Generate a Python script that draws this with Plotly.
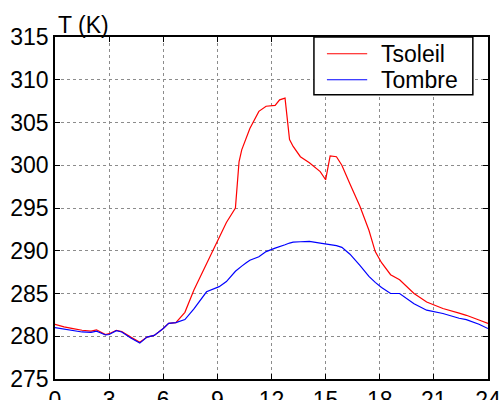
import plotly.graph_objects as go

# Hour of the day (h)
hours = [0, 0.5, 1, 1.5, 2, 2.3, 2.8, 3.0, 3.4, 3.7, 4.2, 4.7, 5.1, 5.5, 6.0,
         6.3, 6.7, 7.2, 7.7, 8.4, 9.1, 9.5, 10.0, 10.2, 10.35, 10.6, 10.8,
         11.3, 11.7, 12.2, 12.45, 12.75, 13.0, 13.2, 13.6, 14.1, 14.7, 15.0,
         15.25, 15.6, 15.9, 16.35, 16.9, 17.4, 17.75, 18.1, 18.6, 19.1, 19.9,
         20.6, 21.5, 22.4, 22.8, 23.5, 24.0]

# Temperature in the sun (K)
t_soleil = [281.4, 281.1, 280.9, 280.7, 280.6, 280.75, 280.2, 280.3, 280.7,
            280.55, 279.9, 279.3, 279.9, 280.1, 280.9, 281.5, 281.6, 282.8,
            285.4, 288.5, 291.6, 293.3, 295.0, 300.4, 301.8, 303.2, 304.3,
            306.3, 306.9, 307.0, 307.65, 307.85, 303.0, 302.2, 301.0, 300.3,
            299.25, 298.3, 301.1, 301.0, 300.0, 297.8, 295.2, 292.4, 289.9,
            288.6, 287.2, 286.6, 285.0, 284.0, 283.25, 282.7, 282.45, 281.9,
            281.5]

# Temperature in the shade (K)
t_ombre = [281.0, 280.85, 280.65, 280.5, 280.45, 280.6, 280.15, 280.2, 280.65,
           280.5, 279.8, 279.2, 279.9, 280.1, 280.9, 281.5, 281.6, 281.95,
           283.2, 285.2, 285.8, 286.4, 287.6, 288.0, 288.2, 288.6, 288.9,
           289.3, 289.9, 290.3, 290.45, 290.7, 290.9, 291.0, 291.05, 291.1,
           290.9, 290.8, 290.7, 290.6, 290.4, 289.6, 288.3, 287.0, 286.3,
           285.7, 285.0, 285.0, 283.8, 283.05, 282.66, 282.1, 281.95, 281.4,
           280.9]

series_names = ["Tsoleil", "Tombre"]
series_colors = ["#ff0000", "#0000ff"]

x_ticks = list(range(0, 25, 3))
y_ticks = list(range(275, 316, 5))

FONT = "Liberation Sans, Arial, sans-serif"

fig = go.Figure()
for name, values, color in zip(series_names, [t_soleil, t_ombre], series_colors):
    fig.add_trace(go.Scatter(x=hours, y=values, mode="lines", name=name,
                             line=dict(color=color, width=1.2), showlegend=False))

axis_common = dict(
    showline=True, linecolor="black", linewidth=1.5, mirror="ticks",
    ticks="inside", ticklen=5, tickcolor="black", tickwidth=1,
    showgrid=True, gridcolor="#8c8c8c", gridwidth=1, griddash="dot",
    zeroline=False, automargin=False,
    tickfont=dict(family=FONT, size=23, color="black"),
)

fig.update_xaxes(range=[0, 24], tickvals=x_ticks, ticktext=[str(v) for v in x_ticks],
                 **axis_common)
fig.update_yaxes(range=[275, 315], tickvals=y_ticks, ticktext=[str(v) for v in y_ticks],
                 **axis_common)

# Axis unit label above the y axis
fig.add_annotation(text="T (K)", xref="paper", yref="paper", x=0.0, y=1.0,
                   xanchor="left", yanchor="bottom", showarrow=False, xshift=1,
                   yshift=-3, font=dict(family=FONT, size=23, color="black"))

# Boxed legend key in the upper right corner (MATLAB style)
box_x0, box_x1, box_y0, box_y1 = 0.598, 0.965, 0.831, 1.0
fig.add_shape(type="rect", xref="paper", yref="paper",
              x0=box_x0, x1=box_x1, y0=box_y0, y1=box_y1,
              line=dict(color="black", width=1.5), fillcolor="white", layer="above")
row_y = [0.951, 0.875]
for name, color, ry in zip(series_names, series_colors, row_y):
    fig.add_shape(type="line", xref="paper", yref="paper",
                  x0=0.628, x1=0.721, y0=ry, y1=ry,
                  line=dict(color=color, width=1.2), layer="above")
    fig.add_annotation(text=name, xref="paper", yref="paper", x=0.748, y=ry,
                       xanchor="left", yanchor="middle", showarrow=False,
                       font=dict(family=FONT, size=23, color="black"))

fig.update_layout(
    width=502, height=400,
    margin=dict(l=55, r=14, t=37, b=21),
    paper_bgcolor="white", plot_bgcolor="white",
    font=dict(family=FONT, size=23, color="black"),
    showlegend=False,
)

fig.write_html("out.html")
